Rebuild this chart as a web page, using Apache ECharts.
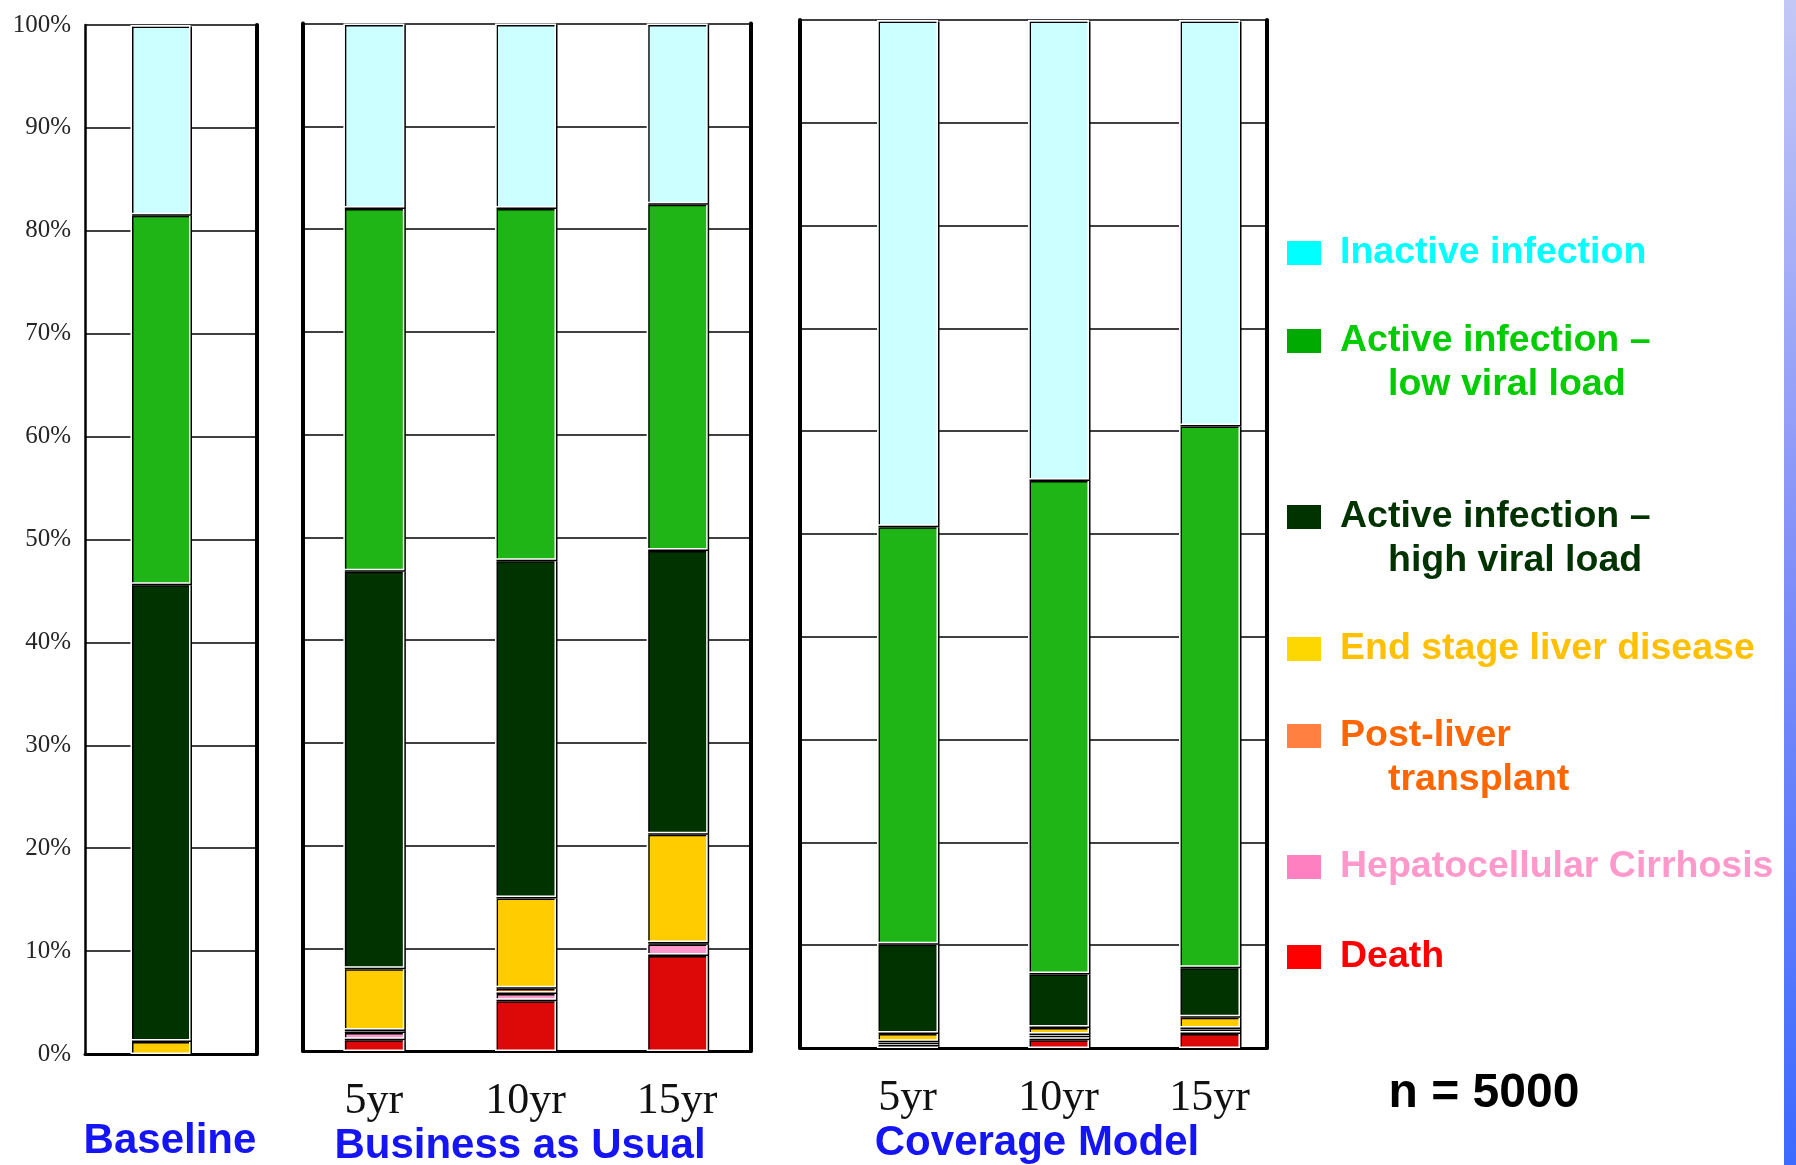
<!DOCTYPE html>
<html>
<head>
<meta charset="utf-8">
<script src="https://cdn.jsdelivr.net/npm/echarts@6/dist/echarts.min.js"></script>
<style>
  html, body { margin: 0; padding: 0; background: #fff; }
  #chart { width: 1796px; height: 1165px; }
</style>
</head>
<body>
<div id="chart"></div>
<script>
// Health states, stacked from the bottom of each bar to the top
const stateNames = [
  'Death',
  'Hepatocellular Cirrhosis',
  'Post-liver transplant',
  'End stage liver disease',
  'Active infection – high viral load',
  'Active infection – low viral load',
  'Inactive infection'
];
const keyLines = [
  ['Death'],
  ['Hepatocellular Cirrhosis'],
  ['Post-liver', 'transplant'],
  ['End stage liver disease'],
  ['Active infection –', 'high viral load'],
  ['Active infection –', 'low viral load'],
  ['Inactive infection']
];

const baselineCategories = ['Baseline'];
const scenarioCategories = ['5yr', '10yr', '15yr'];
const groupTitles = ['Baseline', 'Business as Usual', 'Coverage Model'];
const cohortNote = 'n = 5000';

// Share of the cohort (%) in each state, one row per state (same order as stateNames)
const baselineShares = [
  [0], [0], [0], [1.3], [44.4], [35.9], [18.4]
];
const businessAsUsualShares = [
  [1.2, 5.0, 9.4],
  [0.7, 0.7, 1.1],
  [0.2, 0.5, 0.1],
  [6.0, 8.8, 10.6],
  [38.7, 32.8, 27.6],
  [35.3, 34.3, 33.7],
  [17.9, 17.9, 17.5]
];
const coverageShares = [
  [0.3, 0.9, 1.5],
  [0.2, 0.3, 0.3],
  [0.2, 0.2, 0.2],
  [0.8, 0.7, 1.1],
  [8.7, 5.2, 4.8],
  [40.6, 48.0, 52.7],
  [49.2, 44.7, 39.4]
];

// ---- styling ----
const barColors  = ['#DD0808', '#FF99CC', '#FF6600', '#FFCC00', '#003300', '#1FB516', '#CCFFFF'];
const keyColors  = ['#FF0000', '#FF80C0', '#FF8040', '#FFD700', '#003300', '#00AA00', '#00FFFF'];
const keyText    = ['#FF0000', '#FF99CC', '#FF6600', '#FFC000', '#003300', '#00CC00', '#00FFFF'];
const keyCenters = [957, 867, 736, 649, 517, 341, 253];

const panels = [
  { frame: { left: 85,  top: 25,   width: 172, height: 1029 },  bars: { left: 101, width: 119 }, barWidth: 60, leftW: 2.5, rightW: 4,
    cats: baselineCategories, shares: baselineShares, showCats: false },
  { frame: { left: 303, top: 23.5, width: 448, height: 1027.5 }, bars: { left: 298, width: 455 }, barWidth: 61, leftW: 4, rightW: 4,
    cats: scenarioCategories, shares: businessAsUsualShares, showCats: true },
  { frame: { left: 800, top: 20,   width: 467, height: 1028 },  bars: { left: 832, width: 453 }, barWidth: 61, leftW: 4, rightW: 4,
    cats: scenarioCategories, shares: coverageShares, showCats: true }
];
const titlePos = [[170, 1141], [520, 1146], [1037, 1143]];

const grids = [], xAxes = [], yAxes = [], series = [];

panels.forEach((p, i) => {
  // frame grid: gridlines, borders, tick labels
  grids.push({ left: p.frame.left, top: p.frame.top, width: p.frame.width, height: p.frame.height, outerBoundsMode: 'none' });
  xAxes.push({
    type: 'category', gridIndex: i, data: [''],
    axisLine: { show: true, lineStyle: { color: '#000', width: 3 } },
    axisTick: { show: false }, axisLabel: { show: false }, splitLine: { show: false }
  });
  yAxes.push({
    type: 'value', gridIndex: i, min: 0, max: 100, interval: 10, position: 'left',
    axisLine: { show: true, lineStyle: { color: '#000', width: p.leftW } },
    axisTick: { show: false },
    axisLabel: {
      show: i === 0, formatter: '{value}%', margin: 14,
      fontFamily: 'Liberation Serif', fontSize: 25, color: '#262626'
    },
    splitLine: { show: true, lineStyle: { color: '#000', width: 1.6 } }
  });
  yAxes.push({
    type: 'value', gridIndex: i, min: 0, max: 100, interval: 10, position: 'right',
    axisLine: { show: true, lineStyle: { color: '#000', width: p.rightW } },
    axisTick: { show: false }, axisLabel: { show: false }, splitLine: { show: false }
  });
});

panels.forEach((p, i) => {
  // bar grid: same vertical scale, categories placed under the bars
  grids.push({ left: p.bars.left, top: p.frame.top, width: p.bars.width, height: p.frame.height, outerBoundsMode: 'none' });
  xAxes.push({
    type: 'category', gridIndex: 3 + i, data: p.cats,
    axisLine: { show: false }, axisTick: { show: false }, splitLine: { show: false },
    axisLabel: {
      show: p.showCats, margin: 28,
      fontFamily: 'Liberation Serif', fontSize: 44, color: '#111'
    }
  });
  yAxes.push({ type: 'value', gridIndex: 3 + i, min: 0, max: 100, show: false });
  const barY = yAxes.length - 1;
  p.shares.forEach((row, s) => {
    series.push({
      type: 'bar',
      name: stateNames[s],
      xAxisIndex: 3 + i,
      yAxisIndex: barY,
      stack: 'panel' + i,
      barWidth: p.barWidth,
      data: row.map(v => (v > 0 ? v : '-')),
      itemStyle: {
        color: barColors[s],
        borderColor: '#fff', borderWidth: 1.5,
        shadowColor: '#000', shadowBlur: 0, shadowOffsetX: 1.5, shadowOffsetY: 1.5
      },
      emphasis: { disabled: true }
    });
  });
});

// one key entry per state, icon aligned with the first line of its text
const legends = stateNames.map((name, s) => {
  const lines = keyLines[s];
  const twoLine = lines.length > 1;
  const base = { fontFamily: 'Liberation Sans', fontWeight: 'bold', fontSize: 37.5, lineHeight: 44, color: keyText[s] };
  return {
    data: [{ name: name, itemStyle: { color: keyColors[s], borderWidth: 0, shadowBlur: 0, shadowOffsetX: 0, shadowOffsetY: 0, shadowColor: 'rgba(0,0,0,0)' } }],
    left: 1287,
    top: keyCenters[s] - (twoLine ? 66 : 22),
    orient: 'vertical',
    icon: 'rect',
    itemWidth: 34,
    itemHeight: 24,
    padding: 0,
    selectedMode: false,
    itemStyle: { borderWidth: 0, shadowBlur: 0, shadowOffsetX: 0, shadowOffsetY: 0, shadowColor: 'rgba(0,0,0,0)' },
    textStyle: Object.assign({}, base, {
      rich: {
        g: Object.assign({}, base),
        a: Object.assign({}, base, { padding: [0, 0, 0, 14] }),
        b: Object.assign({}, base, { padding: [0, 0, 0, 62] })
      }
    }),
    formatter: () => twoLine
      ? '{g| }\n{a|' + lines[0] + '}\n{b|' + lines[1] + '}'
      : '{a|' + lines[0] + '}'
  };
});

const graphics = groupTitles.map((t, i) => ({
  type: 'text',
  x: titlePos[i][0], y: titlePos[i][1],
  style: {
    text: t, fill: '#1414F5',
    font: 'bold 42px "Liberation Sans"',
    align: 'center', verticalAlign: 'middle',
    textAlign: 'center', textVerticalAlign: 'middle'
  }
}));
graphics.push({
  type: 'text', x: 1484, y: 1094,
  style: {
    text: cohortNote, fill: '#000', font: 'bold 48px "Liberation Sans"',
    align: 'center', verticalAlign: 'middle', textAlign: 'center', textVerticalAlign: 'middle'
  }
});
graphics.push({
  type: 'rect', shape: { x: 1784, y: 0, width: 12, height: 1165 },
  style: {
    fill: new echarts.graphic.LinearGradient(0, 0, 0, 1, [
      { offset: 0, color: '#C4C8F6' },
      { offset: 0.5, color: '#7F8EF8' },
      { offset: 1, color: '#3C6AFF' }
    ])
  },
  silent: true
});

const chart = echarts.init(document.getElementById('chart'), null, { renderer: 'canvas' });
chart.setOption({
  backgroundColor: '#fff',
  animation: false,
  grid: grids,
  xAxis: xAxes,
  yAxis: yAxes,
  legend: legends,
  series: series,
  graphic: graphics
});
</script>
</body>
</html>
